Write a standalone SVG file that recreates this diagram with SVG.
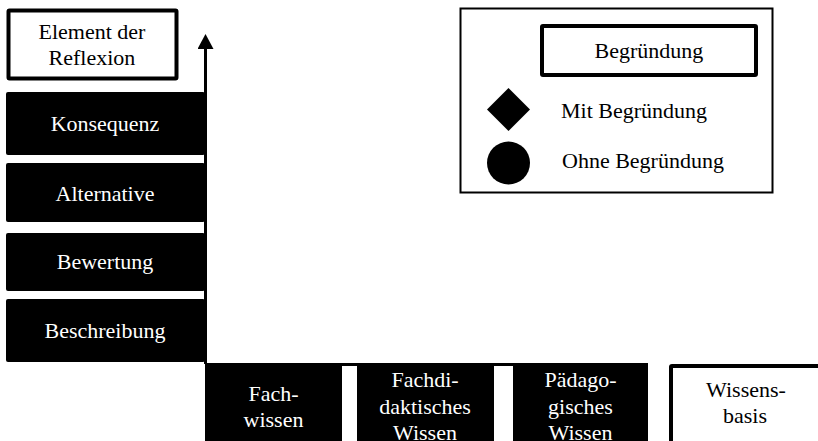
<svg xmlns="http://www.w3.org/2000/svg" width="818" height="441" viewBox="0 0 818 441">
<style>
text{font-family:"Liberation Serif","Times New Roman","DejaVu Serif",serif;font-size:22px;text-anchor:middle}
.blk{fill:#000}
.wt{fill:#fff}
.bt{fill:#000}
.obox{fill:#fff;stroke:#000;stroke-width:4}
.conn{stroke:#000;stroke-width:3;fill:none}
</style>
<defs>
<marker id="ah" viewBox="0 0 15 16" refX="0" refY="8" markerWidth="15" markerHeight="16" markerUnits="userSpaceOnUse" orient="auto">
<path d="M0,0 L15,8 L0,16 Z" fill="#000"/>
</marker>
</defs>
<rect width="818" height="441" fill="#fff"/>

<g id="element-der-reflexion">
<rect class="obox" x="8.5" y="10.5" width="168" height="68" rx="1"/>
<text class="bt" x="92" y="39" font-family="Liberation Serif, serif">Element der</text>
<text class="bt" x="92" y="65" font-family="Liberation Serif, serif">Reflexion</text>
</g>

<g id="konsequenz">
<rect class="blk" x="6" y="92" width="199" height="63" rx="2"/>
<text class="wt" x="105" y="131">Konsequenz</text>
</g>
<g id="alternative">
<rect class="blk" x="6" y="163" width="199" height="59" rx="2"/>
<text class="wt" x="105" y="201">Alternative</text>
</g>
<g id="bewertung">
<rect class="blk" x="6" y="233" width="199" height="58" rx="2"/>
<text class="wt" x="105" y="269">Bewertung</text>
</g>
<g id="beschreibung">
<rect class="blk" x="6" y="299" width="199" height="63" rx="2"/>
<text class="wt" x="105" y="338">Beschreibung</text>
</g>

<g id="fachwissen">
<rect class="blk" x="205" y="363" width="137" height="90" rx="2"/>
<text class="wt" x="273.5" y="401">Fach-</text>
<text class="wt" x="273.5" y="427">wissen</text>
</g>
<g id="fachdidaktisches-wissen">
<rect class="blk" x="357" y="363" width="137" height="90"/>
<text class="wt" x="425" y="387">Fachdi-</text>
<text class="wt" x="425" y="414">daktisches</text>
<text class="wt" x="425" y="440">Wissen</text>
</g>
<g id="paedagogisches-wissen">
<rect class="blk" x="513" y="363" width="135" height="90" rx="2"/>
<text class="wt" x="580.5" y="387">Pädago-</text>
<text class="wt" x="580.5" y="414">gisches</text>
<text class="wt" x="580.5" y="440">Wissen</text>
</g>

<g id="wissensbasis">
<rect class="obox" x="671" y="366" width="160" height="90" rx="1"/>
<text class="bt" x="746" y="397">Wissens-</text>
<text class="bt" x="745" y="423">basis</text>
</g>

<g id="legende">
<rect x="460.5" y="8.5" width="312" height="184" fill="#fff" stroke="#000" stroke-width="2"/>
<rect class="obox" x="542" y="26" width="214" height="49" rx="1"/>
<text class="bt" x="649" y="58">Begründung</text>
<path d="M508.5,88 L530,109.5 L508.5,131 L487,109.5 Z" fill="#000"/>
<text class="bt" x="634" y="118">Mit Begründung</text>
<circle cx="508.5" cy="163" r="21.5" fill="#000"/>
<text class="bt" x="643" y="168">Ohne Begründung</text>
</g>

<g id="connectors">
<path class="conn" d="M205.5,364 L205.5,49" marker-end="url(#ah)"/>
<path class="conn" d="M205,364.5 L648,364.5"/>
</g>
</svg>
